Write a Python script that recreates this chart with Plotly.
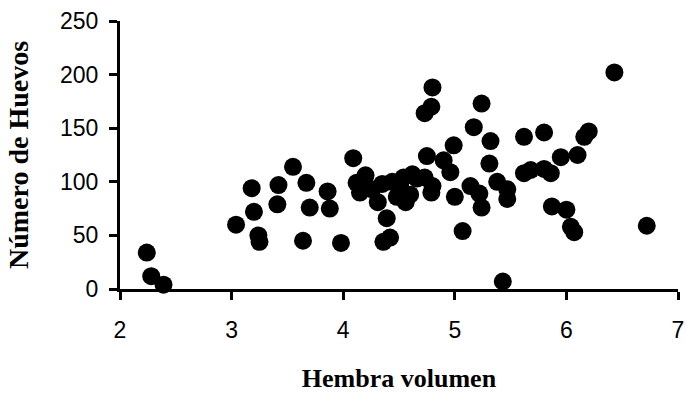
import plotly.graph_objects as go

volumen = [2.24, 2.28, 2.39, 3.04, 3.20, 3.18, 3.24, 3.25, 3.41, 3.42, 3.55, 3.64, 3.67, 3.70, 3.86,
           3.88, 3.98, 4.09, 4.12, 4.20, 4.15, 4.26, 4.31, 4.35, 4.39, 4.36, 4.42, 4.44, 4.51, 4.48,
           4.54, 4.56, 4.62, 4.60, 4.66, 4.73, 4.80, 4.79, 4.75, 4.73, 4.79, 4.80, 4.90, 4.96, 4.99,
           5.00, 5.07, 5.14, 5.22, 5.24, 5.17, 5.24, 5.31, 5.32, 5.38, 5.47, 5.47, 5.43, 5.62, 5.62,
           5.68, 5.80, 5.80, 5.86, 5.87, 5.95, 6.00, 6.04, 6.07, 6.10, 6.16, 6.20, 6.43, 6.72]
huevos = [34, 12, 4, 60, 72, 94, 50, 44, 79, 97, 114, 45, 99, 76, 91,
          75, 43, 122, 99, 106, 90, 93, 81, 98, 66, 44, 48, 100, 96, 86,
          104, 81, 107, 88, 103, 104, 96, 90, 124, 164, 170, 188, 120, 109, 134,
          86, 54, 96, 89, 76, 151, 173, 117, 138, 100, 93, 84, 7, 142, 108,
          111, 146, 112, 108, 77, 123, 74, 58, 53, 125, 142, 147, 202, 59]

x_ticks = [2, 3, 4, 5, 6, 7]
y_ticks = [0, 50, 100, 150, 200, 250]

fig = go.Figure(go.Scatter(
    x=volumen, y=huevos, mode="markers",
    marker=dict(color="black", size=18, line=dict(width=0)),
    cliponaxis=False,
))

axis_common = dict(
    showline=True, linewidth=3, linecolor="black",
    ticks="outside", ticklen=8, tickwidth=3, tickcolor="black",
    showgrid=False, zeroline=False,
    tickfont=dict(family="Liberation Sans, Arial", size=23, color="black"),
)

fig.update_layout(
    width=692, height=398,
    margin=dict(l=120, r=8, t=20, b=109),
    paper_bgcolor="white", plot_bgcolor="white",
    showlegend=False,
    xaxis=dict(range=[2, 7], tickvals=x_ticks, ticklabelstandoff=10,
               title=dict(text="<b>Hembra volumen</b>", standoff=28,
                          font=dict(family="Liberation Serif, Times New Roman", size=26, color="black")),
               **axis_common),
    yaxis=dict(range=[0, 250], tickvals=y_ticks, ticklabelstandoff=6,
               title=dict(text="<b>Número de Huevos</b>", standoff=24,
                          font=dict(family="Liberation Serif, Times New Roman", size=28, color="black")),
               **axis_common),
)

fig.write_html("out.html")
